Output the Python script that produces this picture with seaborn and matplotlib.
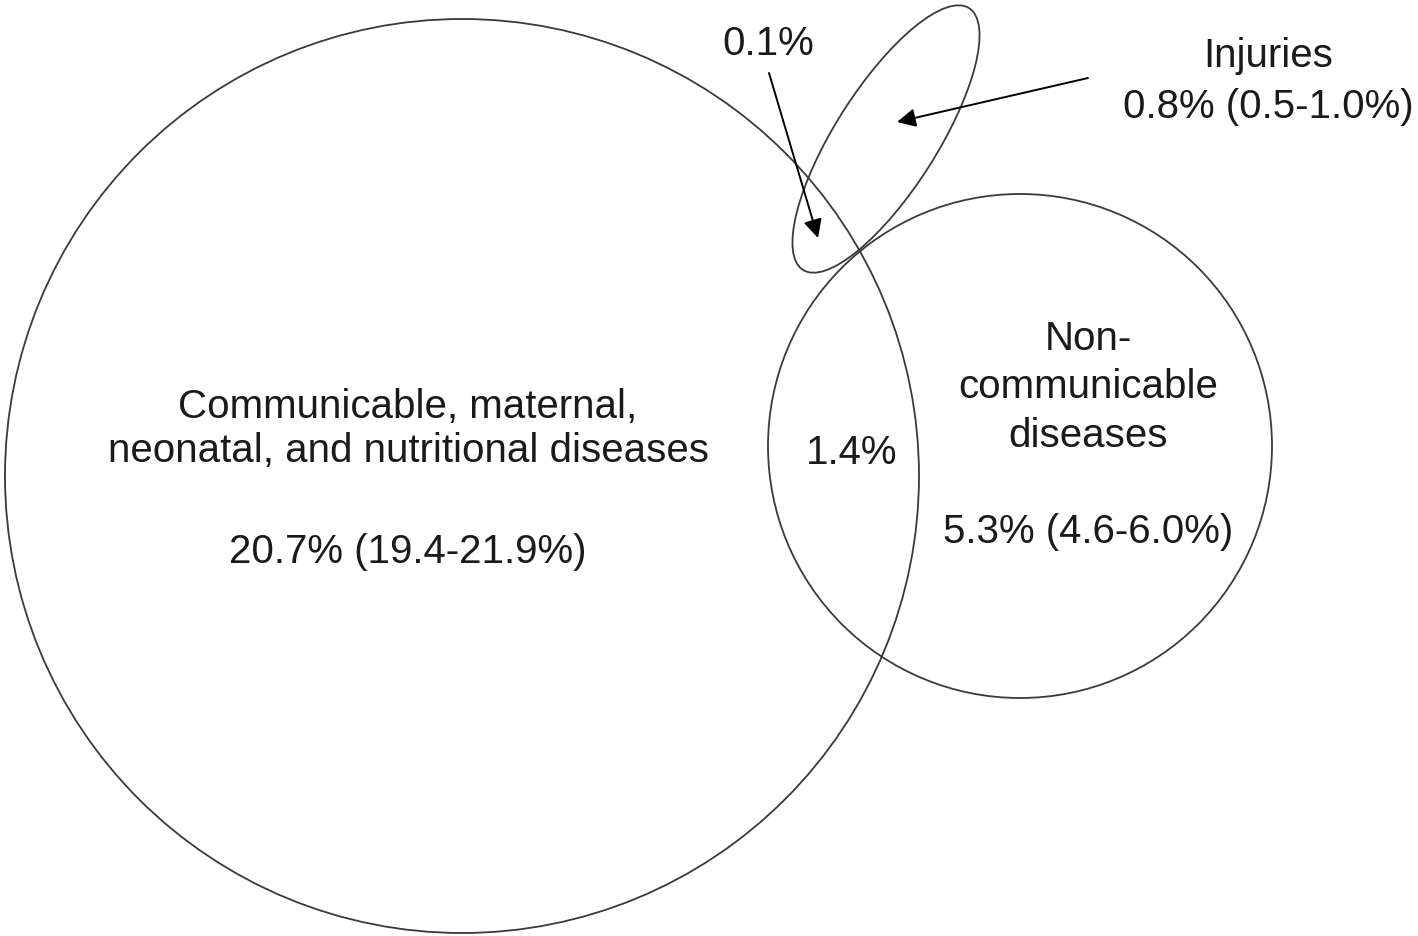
import matplotlib
matplotlib.use("Agg")
import matplotlib.pyplot as plt
from matplotlib.patches import Circle, Ellipse
import seaborn as sns

# ---- data (text values) ----
set_names = ["Communicable, maternal,\nneonatal, and nutritional diseases",
             "Non-\ncommunicable\ndiseases",
             "Injuries"]
set_values = ["20.7% (19.4-21.9%)", "5.3% (4.6-6.0%)", "0.8% (0.5-1.0%)"]
overlap_values = ["1.4%", "0.1%"]

# ---- layout (pixel-like coordinates, y downward) ----
W, H = 1418, 936
big_c, big_r = (462, 476), 457
ncd_c, ncd_r = (1020, 446), 252
inj_c, inj_w, inj_h, inj_ang = (886, 139), 310, 102, -57.6

sns.set_theme(style="white")
plt.rcParams["font.family"] = ["Liberation Sans", "DejaVu Sans"]

fig = plt.figure(figsize=(W / 100, H / 100), dpi=100)
ax = fig.add_axes([0, 0, 1, 1])
ax.set_xlim(0, W)
ax.set_ylim(H, 0)
ax.set_aspect("equal")
ax.axis("off")

edge = "#3a3a3a"
lw = 1.3
ax.add_patch(Circle(big_c, big_r, fill=False, ec=edge, lw=lw))
ax.add_patch(Circle(ncd_c, ncd_r, fill=False, ec=edge, lw=lw))
ax.add_patch(Ellipse(inj_c, inj_w, inj_h, angle=inj_ang, fill=False, ec=edge, lw=lw))

fs = 29
tc = "#1a1a1a"
# Communicable
l1, l2 = set_names[0].split("\n")
ax.text(408, 418, l1, ha="center", va="baseline", fontsize=fs, color=tc)
ax.text(408, 462, l2, ha="center", va="baseline", fontsize=fs, color=tc)
ax.text(408, 563, set_values[0], ha="center", va="baseline", fontsize=fs, color=tc)
# NCD
n1, n2, n3 = set_names[1].split("\n")
ax.text(1088, 350, n1, ha="center", va="baseline", fontsize=fs, color=tc)
ax.text(1088, 398, n2, ha="center", va="baseline", fontsize=fs, color=tc)
ax.text(1088, 447, n3, ha="center", va="baseline", fontsize=fs, color=tc)
ax.text(1088, 543, set_values[1], ha="center", va="baseline", fontsize=fs, color=tc)
# overlap
ax.text(852, 464, overlap_values[0], ha="center", va="baseline", fontsize=fs, color=tc)
# Injuries
ax.text(1268, 67, set_names[2], ha="center", va="baseline", fontsize=fs, color=tc)
ax.text(1268, 118, set_values[2], ha="center", va="baseline", fontsize=fs, color=tc)
ax.text(768, 55, overlap_values[1], ha="center", va="baseline", fontsize=fs, color=tc)

arrow = dict(arrowstyle="-|>", mutation_scale=28, lw=1.4, color="black",
             shrinkA=0, shrinkB=0)
ax.annotate("", xy=(897, 122), xytext=(1088, 78), arrowprops=arrow)
ax.annotate("", xy=(818, 238), xytext=(769, 73), arrowprops=arrow)

fig.savefig("out.png", dpi=100, facecolor="white")
